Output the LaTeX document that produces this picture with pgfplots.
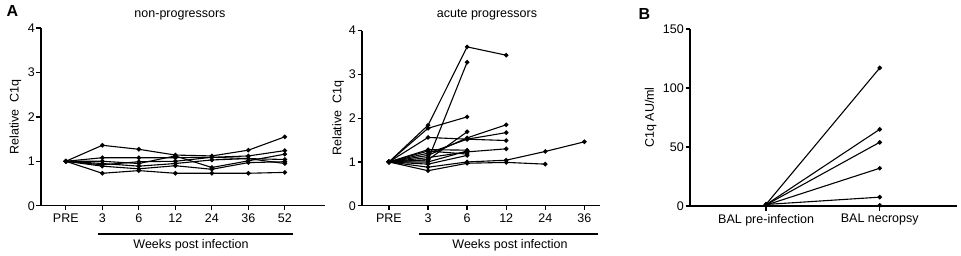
\documentclass[border=0pt]{standalone}
\usepackage{fontspec}
\setmainfont{Liberation Sans}
\usepackage{pgfplots}
\pgfplotsset{compat=1.18}
\pgfplotsset{
  panel/.style={
    scale only axis, anchor=south west,
    axis lines=left, axis line style={line width=1.3pt,-},
    tick style={line width=1.3pt,black}, tick align=outside, major tick length=4.5pt,
    /pgf/number format/assume math mode=true,
    tick label style={font=\fontsize{12.5}{14}\selectfont},
    yticklabel style={inner sep=1.5pt},
    every axis plot post/.append style={black, solid, mark=*, line width=1.1pt, mark size=1.7pt, mark options={solid, fill=black}},
    clip=false,
  },
  ylab/.style={every axis y label/.style={at={(axis description cs:#1,0.5)}, rotate=90, anchor=center, font=\fontsize{12.5}{14}\selectfont}},
}
\begin{document}
\begin{tikzpicture}[x=1pt,y=1pt]
\useasboundingbox (0,0) rectangle (961,255);
% ---------- A left
\begin{axis}[panel, at={(41pt,49.3pt)}, width=284pt, height=177.7pt,
  xmin=-0.68, xmax=7.1, ymin=0, ymax=4, ytick={0,1,2,3,4},
  xtick={0,1,2,3,4,5,6}, xticklabels={PRE,3,6,12,24,36,52},
  ylabel={Relative\ \ C1q}, ylab=-0.09]
\addplot coordinates {(0,1)(1,1.36)(2,1.27)(3,1.14)(4,1.12)(5,1.25)(6,1.55)};
\addplot coordinates {(0,1)(1,1.08)(2,1.08)(3,1.08)(4,1.09)(5,1.12)(6,1.24)};
\addplot coordinates {(0,1)(1,0.73)(2,0.79)(3,0.73)(4,0.73)(5,0.73)(6,0.75)};
\addplot coordinates {(0,1)(1,1.0)(2,0.95)(3,1.12)(4,0.86)(5,1.01)(6,1.16)};
\addplot coordinates {(0,1)(1,0.95)(2,0.89)(3,0.95)(4,1.03)(5,1.06)(6,1.04)};
\addplot coordinates {(0,1)(1,0.89)(2,0.83)(3,0.9)(4,0.82)(5,0.97)(6,0.99)};
\addplot coordinates {(0,1)(1,0.92)(2,0.99)(3,1.0)(4,1.09)(5,1.06)(6,0.95)};
\end{axis}
% ---------- A right
\begin{axis}[panel, at={(362pt,49.3pt)}, width=238pt, height=175pt,
  xmin=-0.69, xmax=5.4, ymin=0, ymax=4, ytick={0,1,2,3,4},
  xtick={0,1,2,3,4,5}, xticklabels={PRE,3,6,12,24,36},
  ylabel={Relative\ \ C1q}, ylab=-0.1]
\addplot coordinates {(0,1)(1,1.84)(2,3.63)(3,3.44)};
\addplot coordinates {(0,1)(1,1.05)(2,3.28)};
\addplot coordinates {(0,1)(1,1.77)(2,2.03)};
\addplot coordinates {(0,1)(1,1.56)(2,1.52)(3,1.49)};
\addplot coordinates {(0,1)(1,1.15)(2,1.55)(3,1.85)};
\addplot coordinates {(0,1)(1,1.05)(2,1.69)};
\addplot coordinates {(0,1)(1,1.2)(2,1.52)(3,1.67)};
\addplot coordinates {(0,1)(1,1.1)(2,1.23)(3,1.30)};
\addplot coordinates {(0,1)(1,0.88)(2,1.0)(3,1.04)(4,1.24)(5,1.46)};
\addplot coordinates {(0,1)(1,0.8)(2,0.97)(3,0.99)(4,0.95)};
\addplot coordinates {(0,1)(1,1.28)(2,1.27)};
\addplot coordinates {(0,1)(1,1.25)(2,1.18)};
\addplot coordinates {(0,1)(1,0.95)(2,1.15)};
\addplot coordinates {(0,1)(1,1.0)(2,1.25)};
\end{axis}
% ---------- B
\begin{axis}[panel, at={(690pt,49pt)}, width=267pt, height=177pt,
  xmin=-0.67, xmax=1.68, ymin=0, ymax=150, ytick={0,50,100,150},
  xtick={0,1}, xticklabels={BAL pre-infection,BAL necropsy},
  ylabel={C1q AU/ml}, ylab=-0.147]
\addplot coordinates {(0,1.5)(1,117)};
\addplot coordinates {(0,1.2)(1,65)};
\addplot coordinates {(0,1.0)(1,54)};
\addplot coordinates {(0,0.8)(1,32)};
\addplot coordinates {(0,1.3)(1,7.5)};
\addplot coordinates {(0,0.6)(1,0.6)};
\end{axis}
% ---------- decorations
\node[font=\fontsize{12.5}{14}\selectfont, anchor=base] at (180,237) {non-progressors};
\node[font=\fontsize{12.5}{14}\selectfont, anchor=base] at (487,237) {acute progressors};
\node[font=\fontsize{16}{18}\bfseries\selectfont, anchor=base west] at (3,238) {A};
\node[font=\fontsize{16}{18}\bfseries\selectfont, anchor=base west] at (635,235) {B};
\draw[line width=1.3pt] (98,21) -- (293,21);
\draw[line width=1.3pt] (419,21) -- (598,21);
\node[font=\fontsize{12.5}{14}\selectfont, anchor=base] at (191,6.7) {Weeks post infection};
\node[font=\fontsize{12.5}{14}\selectfont, anchor=base] at (510,6.7) {Weeks post infection};
\end{tikzpicture}
\end{document}
